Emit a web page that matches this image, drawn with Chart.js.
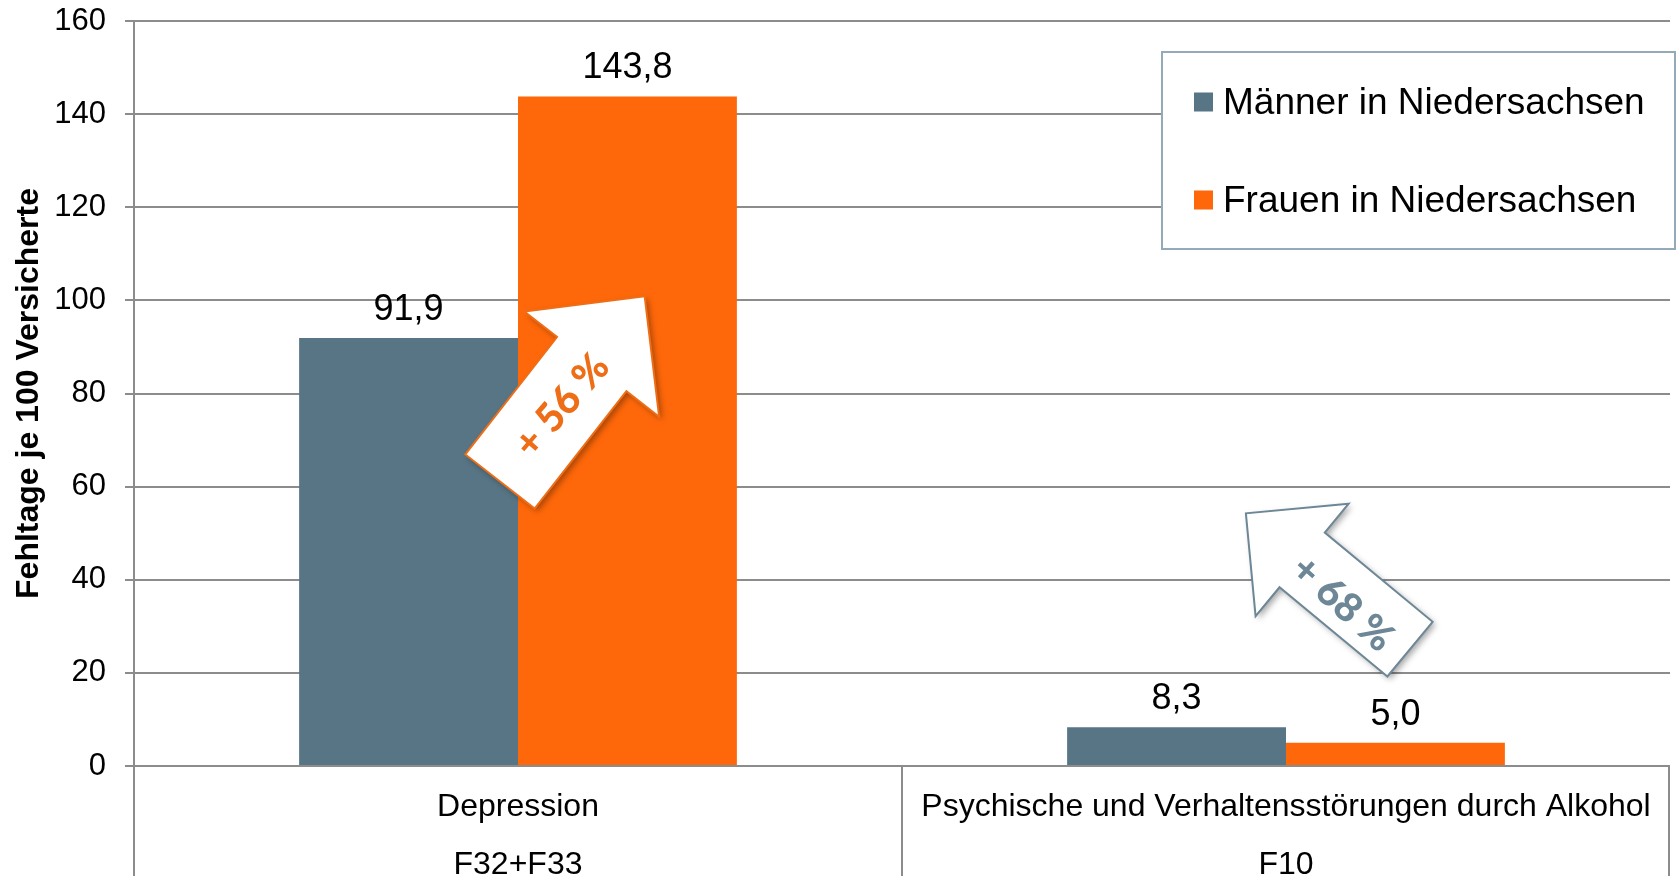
<!DOCTYPE html>
<html>
<head>
<meta charset="utf-8">
<script src="https://cdn.jsdelivr.net/npm/chart.js@4.4.1/dist/chart.umd.min.js"></script>
<style>
  html, body { margin: 0; padding: 0; background: #fff; overflow: hidden; }
  canvas { display: block; }
</style>
</head>
<body>
<canvas id="chart" width="1677" height="876"></canvas>
<script>
// --- Daten ------------------------------------------------------------
const kategorien = [
  ["Depression", "F32+F33"],
  ["Psychische und Verhaltensstörungen durch Alkohol", "F10"],
];
const reihen = ["Männer in Niedersachsen", "Frauen in Niedersachsen"];
const maenner = [91.9, 8.3];
const frauen = [143.8, 5.0];
const yTicks = [0, 20, 40, 60, 80, 100, 120, 140, 160];
const yTitel = "Fehltage je 100 Versicherte";
const differenzen = ["+ 56 %", "+ 68 %"];

// --- Farben / Stil ----------------------------------------------------
const C = {
  ink:    "#000000",
  grid:   "#8c8c8c",
  slate:  "#577585",
  orange: "#ff680a",
  box:    "#93aab8",
  arrowO: "#ee6e18",
  arrowS: "#6d8796",
};
const FONT = "'Liberation Sans', Arial, sans-serif";

// Zahl im deutschen Format
const fmt = (v) => v.toFixed(1).replace(".", ",");

// Pfeile: Anker in Kategorie/Wert, Maße in px
const pfeile = [
  { cat: 0, dx: -18, value: 61.1, angle: -52, shaft: 149, shaftW: 88, head: 86, headW: 171,
    line: C.arrowO, text: C.arrowO, along: 98, perp: 2, textAngle: -49 },
  { cat: 1, dx: 124, value: 25.1, angle: -140.4, shaft: 140, shaftW: 71, head: 73, headW: 146,
    line: C.arrowS, text: C.arrowS, along: 81, perp: -8, textAngle: 42 },
];

// x-Kategoriegrenzen nach unten verlängern
const trennlinien = {
  id: "trennlinien",
  afterDraw(chart) {
    const { ctx, chartArea, scales } = chart;
    const xs = scales.x;
    const n = kategorien.length;
    const w = xs.width / n;
    ctx.save();
    ctx.strokeStyle = C.grid;
    ctx.lineWidth = 2;
    for (let i = 0; i <= n; i++) {
      const x = Math.round(xs.left + i * w) - (i === n ? 1 : 0);
      ctx.beginPath();
      ctx.moveTo(x, chartArea.bottom);
      ctx.lineTo(x, chart.height);
      ctx.stroke();
    }
    ctx.restore();
  },
};

// Werte über den Balken
const werte = {
  id: "werte",
  afterDatasetsDraw(chart) {
    const { ctx } = chart;
    ctx.save();
    ctx.font = "36px " + FONT;
    ctx.fillStyle = C.ink;
    ctx.textAlign = "center";
    ctx.textBaseline = "alphabetic";
    chart.data.datasets.forEach((ds, di) => {
      chart.getDatasetMeta(di).data.forEach((bar, i) => {
        ctx.fillText(fmt(ds.data[i]), bar.x, bar.y - 18);
      });
    });
    ctx.restore();
  },
};

// Blockpfeile mit Prozentangabe
function blockPfeil(ctx, p, x0, y0, label) {
  const th = p.angle * Math.PI / 180;
  ctx.save();
  ctx.translate(x0, y0);
  ctx.rotate(th);
  const sw = p.shaftW / 2, hw = p.headW / 2;
  ctx.beginPath();
  ctx.moveTo(0, -sw);
  ctx.lineTo(p.shaft, -sw);
  ctx.lineTo(p.shaft, -hw);
  ctx.lineTo(p.shaft + p.head, 0);
  ctx.lineTo(p.shaft, hw);
  ctx.lineTo(p.shaft, sw);
  ctx.lineTo(0, sw);
  ctx.closePath();
  ctx.shadowColor = "rgba(0,0,0,0.35)";
  ctx.shadowBlur = 6;
  ctx.shadowOffsetX = 3;
  ctx.shadowOffsetY = 3;
  ctx.fillStyle = "#ffffff";
  ctx.fill();
  ctx.shadowColor = "transparent";
  ctx.lineWidth = 2;
  ctx.strokeStyle = p.line;
  ctx.stroke();
  ctx.restore();

  const tx = x0 + p.along * Math.cos(th) - p.perp * Math.sin(th);
  const ty = y0 + p.along * Math.sin(th) + p.perp * Math.cos(th);
  ctx.save();
  ctx.translate(tx, ty);
  ctx.rotate(p.textAngle * Math.PI / 180);
  ctx.font = "900 40px Lato, 'Open Sans', sans-serif";
  ctx.fillStyle = p.text;
  ctx.textAlign = "center";
  ctx.textBaseline = "middle";
  ctx.fillText(label, 0, 0);
  ctx.restore();
}

const pfeilPlugin = {
  id: "pfeile",
  afterDatasetsDraw(chart) {
    const { ctx, scales } = chart;
    pfeile.forEach((p, i) => {
      const x0 = scales.x.getPixelForValue(p.cat) + p.dx;
      const y0 = scales.y.getPixelForValue(p.value);
      blockPfeil(ctx, p, x0, y0, differenzen[i]);
    });
  },
};

// Legende als Kasten oben rechts
const legende = {
  id: "legende",
  afterDraw(chart) {
    const { ctx, chartArea } = chart;
    const bx = chartArea.right - 508, by = chartArea.top + 31, bw = 513, bh = 197;
    ctx.save();
    ctx.fillStyle = "#ffffff";
    ctx.fillRect(bx, by, bw, bh);
    ctx.strokeStyle = C.box;
    ctx.lineWidth = 2;
    ctx.strokeRect(bx, by, bw, bh);
    ctx.font = "37px " + FONT;
    ctx.textBaseline = "middle";
    ctx.textAlign = "left";
    chart.data.datasets.forEach((ds, i) => {
      const cy = by + 50 + i * 98;
      ctx.fillStyle = ds.backgroundColor;
      ctx.fillRect(bx + 32, cy - 9.5, 19, 19);
      ctx.fillStyle = C.ink;
      ctx.fillText(ds.label, bx + 61, cy + 2);
    });
    ctx.restore();
  },
};

new Chart(document.getElementById("chart"), {
  type: "bar",
  data: {
    labels: kategorien,
    datasets: [
      { label: reihen[0], data: maenner, backgroundColor: C.slate, borderWidth: 0 },
      { label: reihen[1], data: frauen, backgroundColor: C.orange, borderWidth: 0 },
    ],
  },
  options: {
    responsive: false,
    maintainAspectRatio: false,
    animation: false,
    layout: { padding: { top: 21, right: 7, left: 0, bottom: 0 } },
    datasets: { bar: { categoryPercentage: 0.57, barPercentage: 1.0 } },
    plugins: { legend: { display: false }, tooltip: { enabled: false } },
    scales: {
      x: {
        grid: { display: false },
        border: { display: false },
        ticks: {
          color: C.ink,
          padding: 4,
          maxRotation: 0,
          autoSkip: false,
          font: { family: FONT, size: 32, lineHeight: "58px" },
        },
        afterFit(s) { s.height = 110; s.paddingTop = 0; s.paddingBottom = 0; },
      },
      y: {
        min: yTicks[0],
        max: yTicks[yTicks.length - 1],
        afterBuildTicks(s) { s.ticks = yTicks.map((v) => ({ value: v })); },
        grid: { color: C.grid, lineWidth: 2, tickLength: 9, tickColor: C.grid, drawTicks: true },
        border: { display: true, color: C.grid, width: 2 },
        ticks: { color: C.ink, padding: 19, font: { family: FONT, size: 31 } },
        title: {
          display: true,
          text: yTitel,
          color: C.ink,
          padding: { top: 10, bottom: 0 },
          font: { family: FONT, size: 32, weight: "bold" },
        },
        afterFit(s) { s.width = 134; s.paddingTop = 0; s.paddingBottom = 0; },
      },
    },
  },
  plugins: [trennlinien, werte, pfeilPlugin, legende],
});
</script>
</body>
</html>
